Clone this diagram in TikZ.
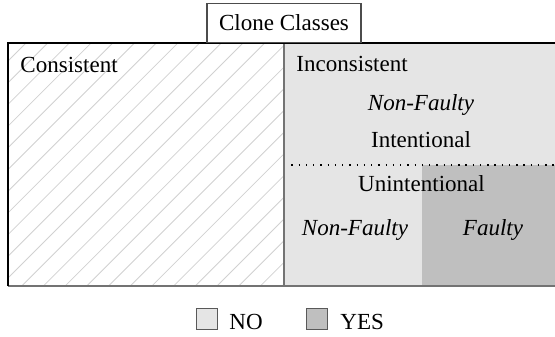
\documentclass[tikz,border=0pt]{standalone}
\usepackage{fontspec}
\setmainfont{Liberation Serif}
\begin{document}
\begin{tikzpicture}[x=0.4342pt,y=-0.4342pt,
  lbl/.style={anchor=base,inner sep=0pt,font=\fontsize{10pt}{12pt}\selectfont},
  legbox/.style={draw=black!65,line width=0.5pt,minimum size=9.3pt,inner sep=0pt},
  blackedge/.style={line width=0.7pt,black},
  grayedge/.style={line width=0.8pt,black!55},
  hatch/.style={black!18,line width=0.35pt}]
\useasboundingbox (0,0) rectangle (555,336);
% regions
\fill[black!10] (284,43) rectangle (555,286);
\fill[black!25] (422,165) rectangle (555,286);
\begin{scope}
\clip (8,43) rectangle (284,286);
\foreach \i in {-12,...,14} {
  \draw[hatch] (\i*21.7,286) -- ++(243,-243);
}
\end{scope}
\draw[dash pattern=on 0.6pt off 2.55pt,line width=0.6pt] (284,165) -- (555,165);
\draw[grayedge] (284,43) -- (284,286);
\draw[grayedge] (8,286) -- (555,286);
\draw[blackedge] (8,286) -- (8,43) -- (555,43);
% title
\node[draw=black!70,line width=0.5pt,minimum width=66.9pt,minimum height=16.8pt,inner sep=0pt,anchor=south,
  font=\fontsize{10pt}{12pt}\selectfont] (title) at (284,43) {Clone Classes};
% labels
\node[lbl,anchor=base west] (cons) at (20,72) {Consistent};
\node[lbl,anchor=base west] (incons) at (296,71) {Inconsistent};
\node[lbl] (nf1) at (421,110) {\itshape Non-Faulty};
\node[lbl] (int) at (421,147) {Intentional};
\node[lbl] (unint) at (421.5,191) {Unintentional};
\node[lbl] (nf2) at (355,235) {\itshape Non-Faulty};
\node[lbl] (faulty) at (493,235) {\itshape Faulty};
% legend
\node[legbox,fill=black!10] (nobox) at (207,319) {};
\node[lbl,anchor=base west] (no) at (229,329) {NO};
\node[legbox,fill=black!25] (yesbox) at (317,319) {};
\node[lbl,anchor=base west] (yes) at (340,329) {YES};
\end{tikzpicture}
\end{document}
